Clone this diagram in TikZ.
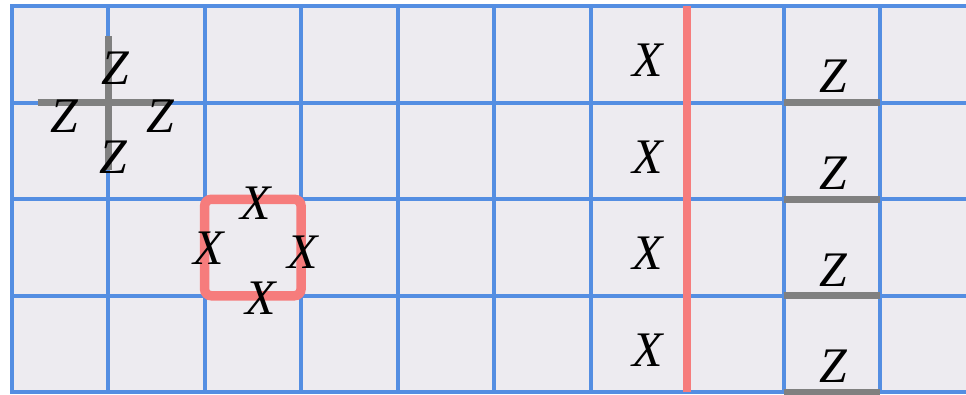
\documentclass[tikz,border=0pt]{standalone}
\usepackage{fontspec}
\setmainfont{Liberation Serif}
\usepackage{tikz}
\usetikzlibrary{positioning}
\definecolor{cellbg}{RGB}{237,235,240}
\definecolor{gridblue}{RGB}{84,142,226}
\definecolor{xred}{RGB}{246,124,124}
\definecolor{zgray}{RGB}{128,128,128}

\begin{document}
\begin{tikzpicture}[x=1.5cm,y=1.5cm,
  lbl/.style={font=\fontsize{22}{26}\selectfont\itshape,inner sep=0pt},
  gridln/.style={draw=gridblue,line width=1.7pt,line cap=rect},
  xline/.style={draw=xred,line width=3.6pt},
  zline/.style={draw=zgray,line width=3.1pt}
]
\useasboundingbox (-0.12,-0.02) rectangle (9.89,4.065);
\fill[cellbg] (0,0) rectangle (9.89,4);
% lattice
\begin{scope}
  \clip (-0.12,-0.02) rectangle (9.89,4.065);
  \foreach \i in {0,...,9} \draw[gridln] (\i,0) -- (\i,4);
  \foreach \j in {0,...,4} \draw[gridln] (0,\j) -- (10,\j);
\end{scope}

% star operator
\draw[zline] (1,2.3) -- (1,3.69);
\draw[zline] (0.27,3) -- (1.64,3);
\node[lbl] (zn) at (1.07,3.36) {Z};
\node[lbl] (zw) at (0.55,2.86) {Z};
\node[lbl] (ze) at (1.54,2.86) {Z};
\node[lbl] (zs) at (1.05,2.44) {Z};

% plaquette operator
\draw[xline,line width=4.2pt,rounded corners=3pt] (2,1) rectangle (3,2);
\node[lbl] (xn) at (2.53,1.96) {X};
\node[lbl] (xw) at (2.04,1.49) {X};
\node[lbl] (xe) at (3.02,1.45) {X};
\node[lbl] (xs) at (2.58,0.97) {X};

% logical strings
\draw[xline] (7,0) -- (7,4);
\foreach \r in {0,...,3} {
  \draw[zline] (8,\r) -- (9,\r);
  \node[lbl] (xc\r) at (6.59,\r+0.44) {X};
  \node[lbl] (zc\r) at (8.51,\r+0.27) {Z};
}
\end{tikzpicture}
\end{document}
